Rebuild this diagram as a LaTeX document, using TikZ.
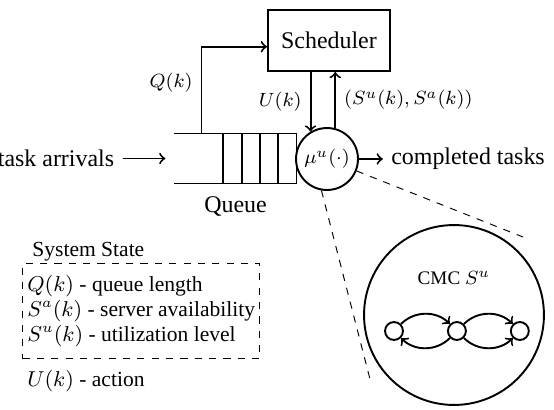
\documentclass[tikz,border=0pt]{standalone}
\usepackage{fontspec}
\setmainfont{Liberation Serif}
\usetikzlibrary{positioning}
\tikzstyle{box} = [rectangle, minimum width=51pt, minimum height=25.5pt, text centered, draw=black, thick]
\tikzstyle{server} = [circle, minimum size=25.9pt, inner sep=0pt, draw=black, thick, font=\footnotesize]
\tikzstyle{cmcbox} = [circle, minimum size=75.2pt, draw=black, thick]
\tikzstyle{cmcstate} = [circle, minimum size=7.5pt, inner sep=0pt, draw=black, thick]
\tikzstyle{lbl} = [font=\footnotesize]
\tikzstyle{arrow} = [thick,->]
\tikzstyle{zoomline} = [thin, dashed]

\begin{document}
\begin{tikzpicture}[x=0.418pt, y=-0.418pt]
	\useasboundingbox (0,0) rectangle (554,410);
	\node (sched) [box] at (329,40.5) {Scheduler};
	\node (queue) [minimum width=50.6pt, minimum height=20.5pt, inner sep=0pt] at (235.5,158.5) {};
	\node (qname) [below=2pt of queue] {Queue};
	\node (srv) [server] at (327,159) {$\mu^u(\cdot)$};
	\node (arr) [left=21.7pt of queue] {task arrivals};
	\node (done) [right=10pt of srv] {completed tasks};

	\node (cmc) [cmcbox] at (454,315) {};
	\node (cmcname) [lbl] at (454,278) {CMC $S^u$};
	\node (s1) [cmcstate] at (394,331) {};
	\node (s2) [cmcstate, right=18pt of s1] {};
	\node (s3) [cmcstate, right=18pt of s2] {};
	\coordinate (z1) at (523,237);
	\coordinate (z2) at (371,383);

	\node (title) [font=\small, anchor=west] at (24,252) {System State};
	\node (legend) [draw, thin, dashed, align=left, inner xsep=2pt, inner ysep=5pt, anchor=north west, font=\fontsize{9}{10.45}\selectfont] at (22,263) {$Q(k)$ - queue length\\ $S^a(k)$ - server availability\\ $S^u(k)$ - utilization level};
	\node (act) [font=\small, inner xsep=2pt, below right=1pt and 0pt of legend.south west] {$U(k)$ - action};

	% queue
	\draw [thick] (queue.north west) -- (queue.north east) -- (queue.south east) -- (queue.south west);
	\foreach \i in {1,...,4}
		\draw [thick] ([xshift=-\i*7.65pt]queue.north east) -- ([xshift=-\i*7.65pt]queue.south east);

	\draw [arrow, shorten >=3.8pt] (arr) -- (queue);
	\draw [arrow] (srv) -- (done);
	\draw [arrow] ([xshift=11.3pt]queue.north west) |- ([yshift=-2.6pt]sched.west) node [lbl, pos=0.29, left] {$Q(k)$};
	\draw [arrow] (srv.121 |- sched.south) -- node [lbl, left] {$U(k)$} (srv.121);
	\draw [arrow] (srv.75) -- node [lbl, right] {$(S^u(k), S^a(k))$} (srv.75 |- sched.south);

	% zoom
	\draw [zoomline] (srv.-22) -- (z1);
	\draw [zoomline] (srv.-100) -- (z2);

	\draw [arrow] (s1) to [bend left=45] (s2);
	\draw [arrow] (s2) to [bend left=45] (s1);
	\draw [arrow] (s2) to [bend left=45] (s3);
	\draw [arrow] (s2) to [bend right=45] (s3);
\end{tikzpicture}
\end{document}
